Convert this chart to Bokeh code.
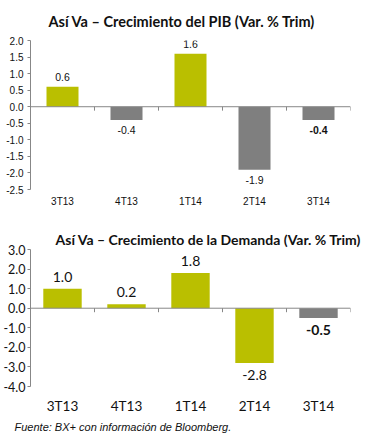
from bokeh.plotting import figure
from bokeh.layouts import column
from bokeh.models import Range1d, FixedTicker, Span, Title, ColumnDataSource, NumeralTickFormatter
from bokeh.core.properties import value
from bokeh.embed import file_html
from bokeh.resources import INLINE

# ---- data ----
quarters = ["3T13", "4T13", "1T14", "2T14", "3T14"]
pib = [0.6, -0.4, 1.6, -1.9, -0.4]
demanda = [1.0, 0.2, 1.8, -2.8, -0.5]
pib_ticks = [-2.5, -2.0, -1.5, -1.0, -0.5, 0.0, 0.5, 1.0, 1.5, 2.0]
dem_ticks = [-4.0, -3.0, -2.0, -1.0, 0.0, 1.0, 2.0, 3.0]
title_pib = "Así Va – Crecimiento del PIB (Var. % Trim)"
title_dem = "Así Va – Crecimiento de la Demanda (Var. % Trim)"
source_note = "Fuente: BX+ con información de Bloomberg."

# ---- styles ----
GREEN = "#BABF00"
GRAY = "#7F7F7F"
AXIS = "#878787"
pib_colors = [GREEN, GRAY, GREEN, GRAY, GRAY]
dem_colors = [GREEN, GREEN, GREEN, GREEN, GRAY]
pib_styles = ["normal", "normal", "normal", "normal", "bold"]
dem_styles = ["normal", "normal", "normal", "normal", "bold"]


def make_chart(vals, ticks, colors, styles, W, H, bl, br, bt, bb, bar_w,
               font, tick_size, cat_size, lab_size, lab_off, cat_standoff, y_standoff):
    n = len(quarters)
    xs = [i + 0.5 for i in range(n)]
    p = figure(width=W, height=H, output_backend="svg", toolbar_location=None,
               x_range=Range1d(0, n), y_range=Range1d(min(ticks), max(ticks)),
               min_border_left=bl, min_border_right=br, min_border_top=bt, min_border_bottom=bb)
    p.outline_line_color = None
    p.grid.visible = False
    p.background_fill_color = "white"
    p.border_fill_color = "white"

    src = ColumnDataSource(dict(
        x=xs, top=vals, color=colors,
        text=[f"{v:.1f}" for v in vals], style=styles,
        base=["bottom" if v >= 0 else "top" for v in vals],
        yoff=[-lab_off if v >= 0 else lab_off for v in vals],
    ))
    p.vbar(x="x", top="top", bottom=0, width=bar_w, color="color", source=src, line_color=None)

    # zero axis line + category boundary ticks
    p.add_layout(Span(location=0, dimension="width", line_color=AXIS, line_width=1))
    frame_h = H - bt - bb
    tick_len = 4 * (max(ticks) - min(ticks)) / frame_h
    bx = list(range(n + 1))
    p.segment(x0=bx, y0=[0] * len(bx), x1=bx, y1=[-tick_len] * len(bx), line_color=AXIS, line_width=1)

    p.text(x="x", y="top", text="text", source=src, text_align="center",
           text_baseline="base", y_offset="yoff", text_font=value(font[0]),
           text_font_size=lab_size, text_font_style="style", text_color="#111111")

    xa = p.xaxis[0]
    xa.ticker = FixedTicker(ticks=xs)
    xa.major_label_overrides = {x: q for x, q in zip(xs, quarters)}
    xa.axis_line_color = None
    xa.major_tick_line_color = None
    xa.minor_tick_line_color = None
    xa.major_tick_out = 0
    xa.major_tick_in = 0
    xa.major_label_standoff = cat_standoff
    xa.major_label_text_font = font[1]
    xa.major_label_text_font_size = cat_size
    xa.major_label_text_color = "#111111"

    ya = p.yaxis[0]
    ya.ticker = FixedTicker(ticks=ticks)
    ya.formatter = NumeralTickFormatter(format="0.0")
    ya.axis_line_color = AXIS
    ya.major_tick_line_color = AXIS
    ya.minor_tick_line_color = None
    ya.major_tick_out = 3
    ya.major_tick_in = 0
    ya.major_label_standoff = y_standoff
    ya.major_label_text_font = font[1]
    ya.major_label_text_font_size = tick_size
    ya.major_label_text_color = "#111111"
    return p


p1 = make_chart(pib, pib_ticks, pib_colors, pib_styles, 366, 220, 26, 16, 37, 31, 0.5,
                ("Liberation Sans", "Liberation Sans"), "10px", "10px", "10.5px", 6, 6, 4)
p1.add_layout(Title(text=title_pib, align="left", offset=18, standoff=21,
                    text_font="Lato", text_font_style="bold", text_font_size="14.5px",
                    text_color="#111111"), "above")

p2 = make_chart(demanda, dem_ticks, dem_colors, dem_styles, 366, 219, 28, 7, 29, 53, 0.6,
                ("Lato", "Lato"), "12.5px", "13.5px", "14px", 7, 11, 2)
p2.add_layout(Title(text=title_dem, align="left", offset=25, standoff=4,
                    text_font="Lato", text_font_style="bold", text_font_size="14px",
                    text_color="#111111"), "above")
p2.add_layout(Title(text=source_note, align="left", offset=-16, standoff=5,
                    text_font="Liberation Sans", text_font_style="italic", text_font_size="11px",
                    text_color="#111111"), "below")

layout = column(p1, p2, spacing=0)
open("out.html", "w").write(file_html(layout, INLINE))
